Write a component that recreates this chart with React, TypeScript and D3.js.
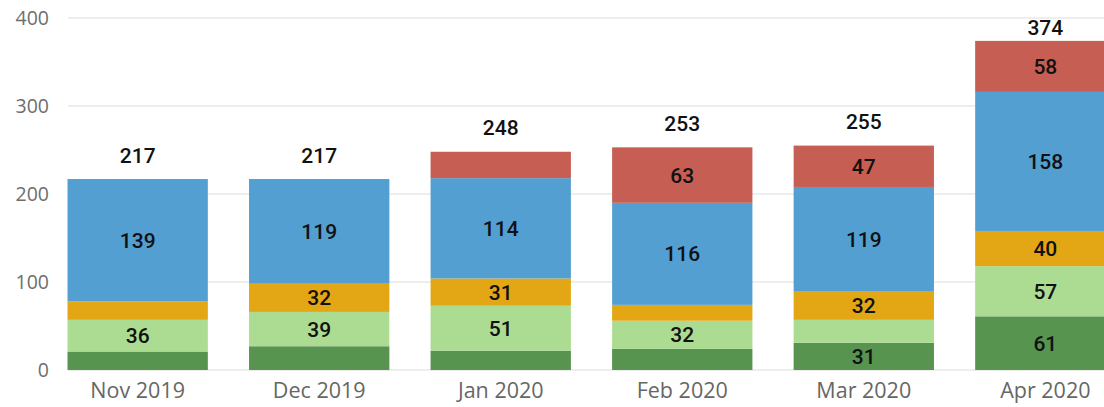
import React from 'react'
import * as d3 from 'd3'

const months = ['Nov 2019', 'Dec 2019', 'Jan 2020', 'Feb 2020', 'Mar 2020', 'Apr 2020']
const seriesKeys = ['darkGreen', 'lightGreen', 'orange', 'blue', 'red']
const darkGreen = [21, 27, 22, 24, 31, 61]
const lightGreen = [36, 39, 51, 32, 26, 57]
const orange = [21, 32, 31, 18, 32, 40]
const blue = [139, 119, 114, 116, 119, 158]
const red = [0, 0, 30, 63, 47, 58]
const yTicks = [0, 100, 200, 300, 400]

const colors = ['#56944f', '#acdc92', '#e3a614', '#539fd1', '#c65e53']

const W = 1104
const H = 407

const App = () => {
  // build rows for d3.stack
  const rows = months.map((m, i) => ({
    month: m,
    darkGreen: darkGreen[i],
    lightGreen: lightGreen[i],
    orange: orange[i],
    blue: blue[i],
    red: red[i],
  }))
  const stacked = d3.stack().keys(seriesKeys)(rows as any)

  const x = d3.scaleBand().domain(months).range([47, 1136]).paddingInner(0.227).paddingOuter(0.113)
  const y = d3.scaleLinear().domain([0, 400]).range([370, 18])

  const totals = rows.map((r) => seriesKeys.reduce((s, k) => s + (r as any)[k], 0))

  return (
    <svg width={W} height={H} style={{ position: 'absolute', left: 0, top: 0 }}>
      <g>
        {yTicks.map((t) => (
          <g key={t}>
            <line x1={68} x2={W} y1={y(t)} y2={y(t)} stroke='#e9e9e9' strokeWidth={1.5} />
            <text
              x={49}
              y={y(t)}
              dy='0.35em'
              textAnchor='end'
              fontFamily='Open Sans'
              fontSize={19.5}
              fill='#6e6e6e'
            >
              {t}
            </text>
          </g>
        ))}
      </g>
      <g>
        {stacked.map((s, si) => (
          <g key={s.key} fill={colors[si]}>
            {s.map((d, i) => {
              const v = d[1] - d[0]
              if (v <= 0) return null
              return (
                <rect
                  key={i}
                  x={x(months[i])}
                  y={y(d[1])}
                  width={x.bandwidth()}
                  height={y(d[0]) - y(d[1])}
                />
              )
            })}
          </g>
        ))}
      </g>
      <g fontFamily='Roboto' fontWeight={500} fontSize={21} fill='#111' textAnchor='middle'>
        {stacked.map((s) =>
          s.map((d, i) => {
            const v = d[1] - d[0]
            if (v < 31) return null
            return (
              <text
                key={s.key + i}
                x={(x(months[i]) as number) + x.bandwidth() / 2}
                y={y((d[0] + d[1]) / 2)}
                dy='0.36em'
              >
                {v}
              </text>
            )
          })
        )}
        {totals.map((t, i) => (
          <text
            key={'t' + i}
            x={(x(months[i]) as number) + x.bandwidth() / 2}
            y={Math.max(y(t) - 24, 27)}
            dy='0.36em'
          >
            {t}
          </text>
        ))}
      </g>
      <g fontFamily='Open Sans' fontSize={21.5} fill='#666' textAnchor='middle'>
        {months.map((m) => (
          <text key={m} x={(x(m) as number) + x.bandwidth() / 2} y={398}>
            {m}
          </text>
        ))}
      </g>
    </svg>
  )
}

export default App
